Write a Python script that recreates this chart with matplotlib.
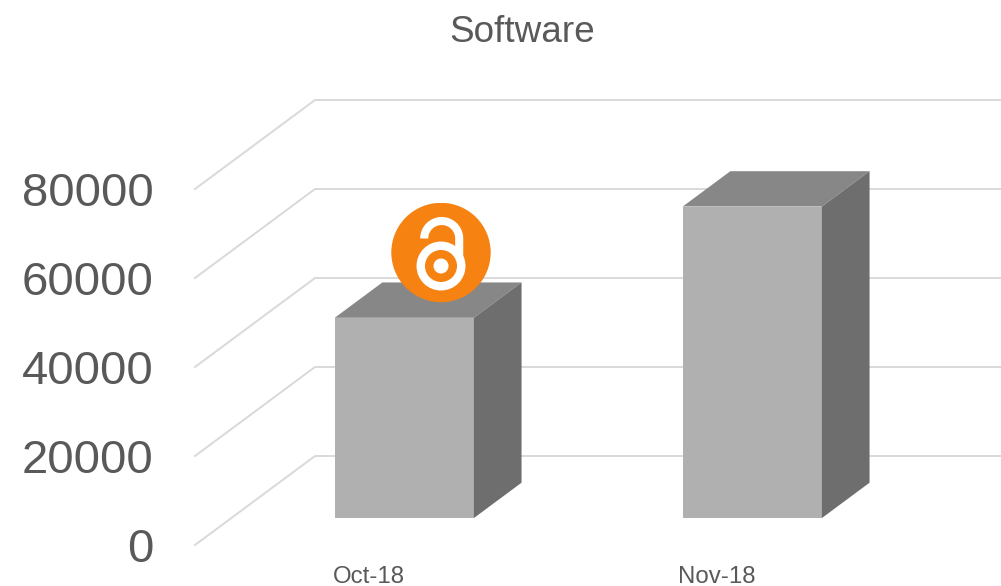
import numpy as np
import matplotlib
matplotlib.use('Agg')
import matplotlib.pyplot as plt
from matplotlib.patches import Circle

months = ['Oct-18', 'Nov-18']
software = [45000, 70000]
y_ticks = [0, 20000, 40000, 60000, 80000]

W, H = 1001, 586
plt.rcParams['font.family'] = ['Liberation Sans', 'DejaVu Sans']
text_col = '#595959'

# fake 3d: depth 0 is the front plane, depth 1 the back wall
depth_dx = 120 / 348
depth_dy = 20000


def project(x, y, depth):
    return x + depth * depth_dx, y + depth * depth_dy


fig = plt.figure(figsize=(W / 100, H / 100), dpi=100)
ax = fig.add_axes([195 / W, (H - 545) / H, (W - 195) / W, 445 / H])
ax.set_xlim(-0.5, -0.5 + 806 / 348)
ax.set_ylim(0, 100000)
for s in ax.spines.values():
    s.set_visible(False)

ax.set_yticks(y_ticks)
ax.set_xticks(range(len(months)))
ax.set_xticklabels(months)
ax.tick_params(axis='y', length=0, labelsize=34, pad=30, labelcolor=text_col)
ax.tick_params(axis='x', length=0, labelsize=17.3, pad=15, labelcolor=text_col)

# grid runs along the floor side, then across the back wall
for v in y_ticks:
    x0, y0 = project(-0.5, v, 0)
    x1, y1 = project(-0.5, v, 1)
    ax.plot([x0, x1, ax.get_xlim()[1]], [y0, y1, y1], color='#d9d9d9', lw=1.4, zorder=1,
            solid_joinstyle='miter', clip_on=False)

# bars
bar_w = 0.4
d0, d1 = 0.303, 0.70
nudge = -0.003
for i, val in enumerate(software):
    l, r = i + nudge - bar_w / 2, i + nudge + bar_w / 2
    fl = project(l, 0, d0)
    fr = project(r, 0, d0)
    br = project(r, 0, d1)
    ftl = project(l, val, d0)
    ftr = project(r, val, d0)
    btl = project(l, val, d1)
    btr = project(r, val, d1)
    ax.fill([fl[0], fr[0], ftr[0], ftl[0]], [fl[1], fr[1], ftr[1], ftl[1]],
            color='#b0b0b0', lw=0, zorder=3)
    ax.fill([ftl[0], ftr[0], btr[0], btl[0]], [ftl[1], ftr[1], btr[1], btl[1]],
            color='#878787', lw=0, zorder=3)
    ax.fill([fr[0], br[0], btr[0], ftr[0]], [fr[1], br[1], btr[1], ftr[1]],
            color='#6e6e6e', lw=0, zorder=3)

fig.text(522 / W, 1 - 33 / H, 'Software', fontsize=26.6, color=text_col, ha='center', va='center')

# open access logo, drawn in its own little axes (pixel units, y down)
logo = fig.add_axes([391 / W, (H - 303) / H, 100 / W, 100 / H], zorder=5)
logo.set_xlim(391, 491)
logo.set_ylim(303, 203)
logo.axis('off')
orange = '#f68212'
logo.add_patch(Circle((441, 252.5), 49.7, fc=orange, ec='none'))
t = np.linspace(np.pi, 0, 40)
sx = np.r_[441.7 + 17.5 * np.cos(t), 459.2]
sy = np.r_[238.5 - 17.5 * np.sin(t), 258]
logo.plot(sx, sy, color='white', lw=5.8, solid_capstyle='butt')
logo.add_patch(Circle((441, 266), 24.5, fc='white', ec='none'))
logo.add_patch(Circle((441, 266), 16, fc=orange, ec='none'))
logo.add_patch(Circle((441, 266), 7.5, fc='white', ec='none'))

fig.savefig('out.png', dpi=100)
